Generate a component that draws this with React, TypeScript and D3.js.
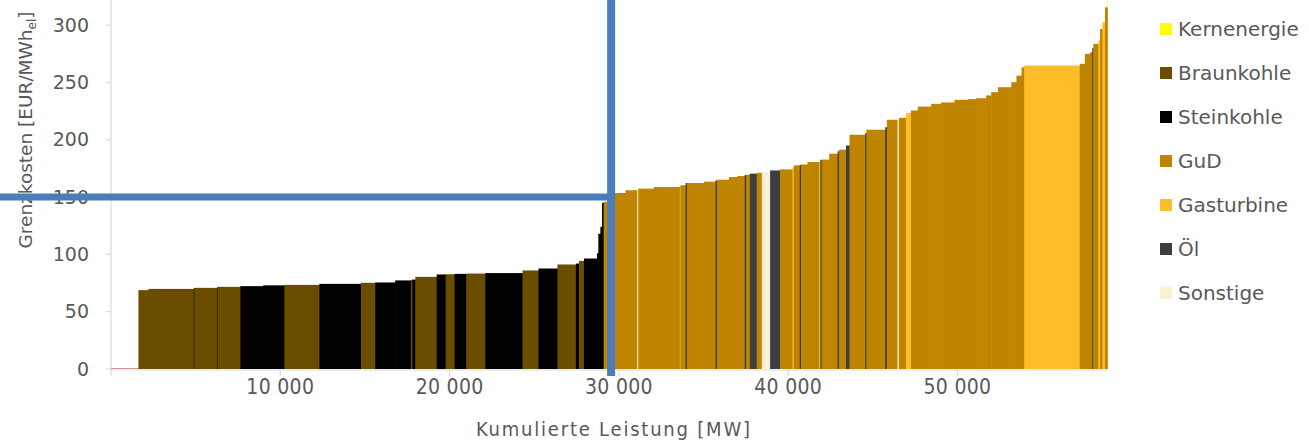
import React from "react";
import * as d3 from "d3";

// ---- data ----
const legendTypes = ["Kernenergie", "Braunkohle", "Steinkohle", "GuD", "Gasturbine", "Öl", "Sonstige"];
const typeColors: Record<string, string> = {
  Kernenergie: "#ffff00",
  Braunkohle: "#6b4d00",
  Steinkohle: "#000000",
  GuD: "#bf8500",
  Gasturbine: "#fcbd28",
  "Öl": "#3b3e42",
  Sonstige: "#fdf0d5",
  Erneuerbare: "#c49090",
};

// block capacity [MW], in merit order
const capacityMW = [
  1620, 590, 2680, 30, 1360, 30, 1330, 1360, 1240, 2070, 2450, 845, 1180, 930, 80, 180, 1260, 530, 530, 690,
  1120, 2200, 945, 1120, 1090, 180, 295, 770, 80, 120, 100, 95, 240, 1050, 690, 60, 920, 1540, 40, 300,
  80, 1000, 690, 80, 710, 500, 430, 90, 210, 410, 300, 490, 590, 730, 80, 350, 80, 380, 690, 70,
  70, 450, 500, 80, 410, 210, 930, 70, 1110, 100, 630, 80, 410, 300, 400, 790, 590, 790, 790, 490,
  590, 300, 400, 790, 300, 300, 160, 3280, 300, 300, 140, 60, 300, 100, 140, 150, 160, 90,
];
// marginal cost [EUR/MWh_el]
const costEUR = [
  0.8, 68.8, 69.9, 70.5, 70.8, 71.5, 71.7, 72.3, 73.0, 73.4, 74.3, 75.2, 75.5, 77.3, 77.8, 78, 80.4, 82.5, 82.7, 83,
  83.3, 83.7, 86, 87.7, 91.2, 92, 94.3, 96.4, 101, 118, 124, 145, 146, 153.6, 156, 157, 157.4, 158.8, 160, 160.3,
  162.3, 162.3, 163.5, 164.6, 165.2, 167.5, 168.4, 169.3, 169.5, 170.5, 171.2, 171.9, 173.3, 174.2, 176, 177.7, 178, 178.5, 180.6, 182,
  182.5, 182.7, 187.9, 190, 191.4, 195, 204.4, 206, 208.8, 211, 217.5, 219, 219.2, 223.3, 225.6, 229, 231.4, 232.6, 234.9, 235.5,
  236.3, 238.7, 241.6, 245.9, 250.3, 256, 263.3, 264.8, 266.3, 275, 276.4, 280, 283.7, 286.6, 296.7, 302.5, 315.6, 330,
];
// technology codes: E=Erneuerbare, B=Braunkohle, S=Steinkohle, G=GuD, T=Gasturbine, O=Öl, X=Sonstige
const typeCode = [
  "E", "B", "B", "S", "B", "S", "B", "S", "S", "B", "S", "B", "S", "S", "B", "S", "B", "S", "B", "S",
  "B", "S", "B", "S", "B", "S", "B", "S", "S", "S", "S", "S", "G", "G", "G", "X", "G", "G", "T", "G",
  "O", "G", "G", "O", "G", "G", "G", "O", "G", "O", "G", "X", "O", "G", "T", "G", "O", "G", "G", "T",
  "O", "G", "G", "O", "G", "O", "G", "O", "G", "O", "G", "X", "G", "T", "G", "G", "G", "G", "G", "G",
  "G", "G", "G", "G", "G", "G", "G", "T", "G", "G", "G", "O", "G", "T", "G", "T", "G", "T",
];
const codeNames: Record<string, string> = {
  E: "Erneuerbare", B: "Braunkohle", S: "Steinkohle", G: "GuD", T: "Gasturbine", O: "Öl", X: "Sonstige",
};

const xTicks = [10000, 20000, 30000, 40000, 50000];
const yTicks = [0, 50, 100, 150, 200, 250, 300];
const markerMW = 29540;
const markerCost = 150;

const W = 1309;
const H = 443;
const plot = { left: 111, right: 1107, top: 0, bottom: 369 };

export default function App() {
  const x = d3.scaleLinear().domain([0, 58830]).range([plot.left, plot.right]);
  const y = d3.scaleLinear().domain([0, 322]).range([plot.bottom, plot.top]);
  const ends = Array.from(d3.cumsum(capacityMW));
  const blocks = capacityMW.map((c, i) => ({
    x0: ends[i] - c,
    x1: ends[i],
    cost: costEUR[i],
    type: codeNames[typeCode[i]],
  }));
  const fmt = (v: number) => d3.format(",")(v).replace(/,/g, " ");
  const gray = "#595959";
  const axisColor = "#d9d9d9";
  const blue = "#4a7ebb";
  const mx = x(markerMW);
  const my = y(markerCost);

  return (
    <svg width={W} height={H} style={{ position: "absolute", left: 0, top: 0, background: "#fff" }}>
      <defs>
        <clipPath id="plotClip">
          <rect x={plot.left} y={0} width={plot.right - plot.left + 1} height={plot.bottom + 1} />
        </clipPath>
      </defs>
      {/* y axis */}
      <line x1={plot.left} x2={plot.left} y1={0} y2={plot.bottom + 1} stroke={axisColor} strokeWidth={1.2} />
      {yTicks.map((t) => (
        <g key={t}>
          <line x1={plot.left - 5} x2={plot.left} y1={y(t)} y2={y(t)} stroke={axisColor} strokeWidth={1.2} />
          <text x={89} y={y(t)} dy="0.35em" textAnchor="end" fontFamily="DejaVu Sans, Verdana, sans-serif" fontSize={19} fill={gray}>
            {t}
          </text>
        </g>
      ))}
      {/* x axis */}
      <line x1={plot.left} x2={plot.right} y1={plot.bottom + 1} y2={plot.bottom + 1} stroke={axisColor} strokeWidth={1.2} />
      {[0, ...xTicks].map((t) => (
        <line key={t} x1={x(t)} x2={x(t)} y1={plot.bottom + 1} y2={plot.bottom + 7} stroke={axisColor} strokeWidth={1.2} />
      ))}
      {xTicks.map((t) => (
        <text key={t} x={x(t)} y={394} textAnchor="middle" fontFamily="DejaVu Sans Condensed, sans-serif" fontSize={21} letterSpacing={0.3} fill={gray}>
          {fmt(t)}
        </text>
      ))}
      <text x={613} y={436} textAnchor="middle" fontFamily="DejaVu Sans Condensed, sans-serif" fontSize={20} textLength={274} lengthAdjust="spacing" fill={gray}>
        Kumulierte Leistung [MW]
      </text>
      <text transform="translate(32,130) rotate(-90)" textAnchor="middle" fontFamily="DejaVu Sans, Verdana, sans-serif" fontSize={18.5} fill={gray}>
        Grenzkosten [EUR/MWh<tspan fontSize={12} dy={4}>el</tspan><tspan dy={-4}>]</tspan>
      </text>
      {/* merit order blocks */}
      <g clipPath="url(#plotClip)">
        {blocks.map((b, i) => (
          <rect
            key={i}
            x={x(b.x0)}
            y={y(b.cost)}
            width={Math.max(0.5, x(b.x1) - x(b.x0)) + (i < blocks.length - 1 ? 0.6 : 0)}
            height={Math.max(0.8, y(0) - y(b.cost))}
            fill={typeColors[b.type]}
          />
        ))}
      </g>
      {/* marker lines */}
      <line x1={0} x2={mx + 4} y1={my} y2={my} stroke={blue} strokeWidth={7} />
      <line x1={mx} x2={mx} y1={0} y2={plot.bottom + 7} stroke={blue} strokeWidth={8} />
      {/* legend */}
      {legendTypes.map((t, i) => (
        <g key={t} transform={`translate(1160, ${29 + i * 44})`}>
          <rect x={0} y={-6} width={12} height={12} fill={typeColors[t]} />
          <text x={18} y={0} dy="0.36em" fontFamily="DejaVu Sans, Verdana, sans-serif" fontSize={20} fill={gray}>
            {t}
          </text>
        </g>
      ))}
    </svg>
  );
}
